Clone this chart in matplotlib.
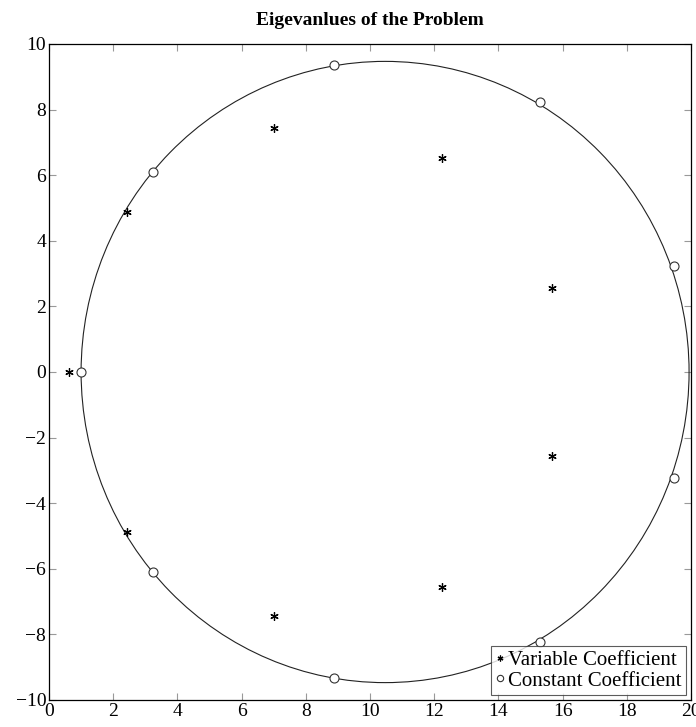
import matplotlib
matplotlib.use("Agg")
import matplotlib.pyplot as plt
from matplotlib.patches import Circle

plt.rcParams['font.family'] = ['Liberation Serif', 'DejaVu Serif']
plt.rcParams['mathtext.fontset'] = 'stix'

# eigenvalues, real and imaginary parts
var_re = [0.63, 2.42, 7.01, 12.24, 15.66, 15.66, 12.24, 7.01, 2.42]
var_im = [0.0, 4.87, 7.43, 6.53, 2.57, -2.57, -6.54, -7.44, -4.87]

const_re = [1.0, 3.24, 8.89, 15.29, 19.46, 19.46, 15.29, 8.89, 3.24]
const_im = [0.0, 6.10, 9.35, 8.22, 3.24, -3.24, -8.22, -9.34, -6.10]

# circle the constant-coefficient eigenvalues sit on
circle_center = (10.47, 0.0)
circle_radius = 9.47

xticks = [0, 2, 4, 6, 8, 10, 12, 14, 16, 18, 20]
yticks = [-10, -8, -6, -4, -2, 0, 2, 4, 6, 8, 10]

fig = plt.figure(figsize=(6.96, 7.27), dpi=100)
ax = fig.add_axes([49 / 696, 27 / 727, 642 / 696, 656 / 727])

ax.add_patch(Circle(circle_center, circle_radius, fill=False,
                    edgecolor='#222222', linewidth=0.8, zorder=2))

ax.plot(var_re, var_im, linestyle='none', marker=(6, 2, 0), markersize=6,
        markeredgecolor='black', markeredgewidth=0.9, color='black',
        label='Variable Coefficient', zorder=3)
ax.plot(const_re, const_im, linestyle='none', marker='o', markersize=6.5,
        markerfacecolor='white', markeredgecolor='#333333', markeredgewidth=0.8,
        label='Constant Coefficient', zorder=3)

ax.set_xlim(0, 20)
ax.set_ylim(-10, 10)
ax.set_xticks(xticks)
ax.set_yticks(yticks)
ax.tick_params(direction='in', length=5, width=0.8, color='#999999',
               top=True, right=True, labelsize=14, pad=2)
for s in ax.spines.values():
    s.set_linewidth(0.9)

ax.set_title('Eigevanlues of the Problem', fontsize=14, fontweight='bold', pad=14)

leg = ax.legend(loc='lower right', fontsize=15, frameon=True, fancybox=False,
                handlelength=0.4, handletextpad=0.2, borderpad=0.2,
                labelspacing=0.05, borderaxespad=0.25, markerscale=0.7)
leg.get_frame().set_edgecolor('#333333')
leg.get_frame().set_linewidth(0.8)

fig.savefig('out.png', dpi=100)
